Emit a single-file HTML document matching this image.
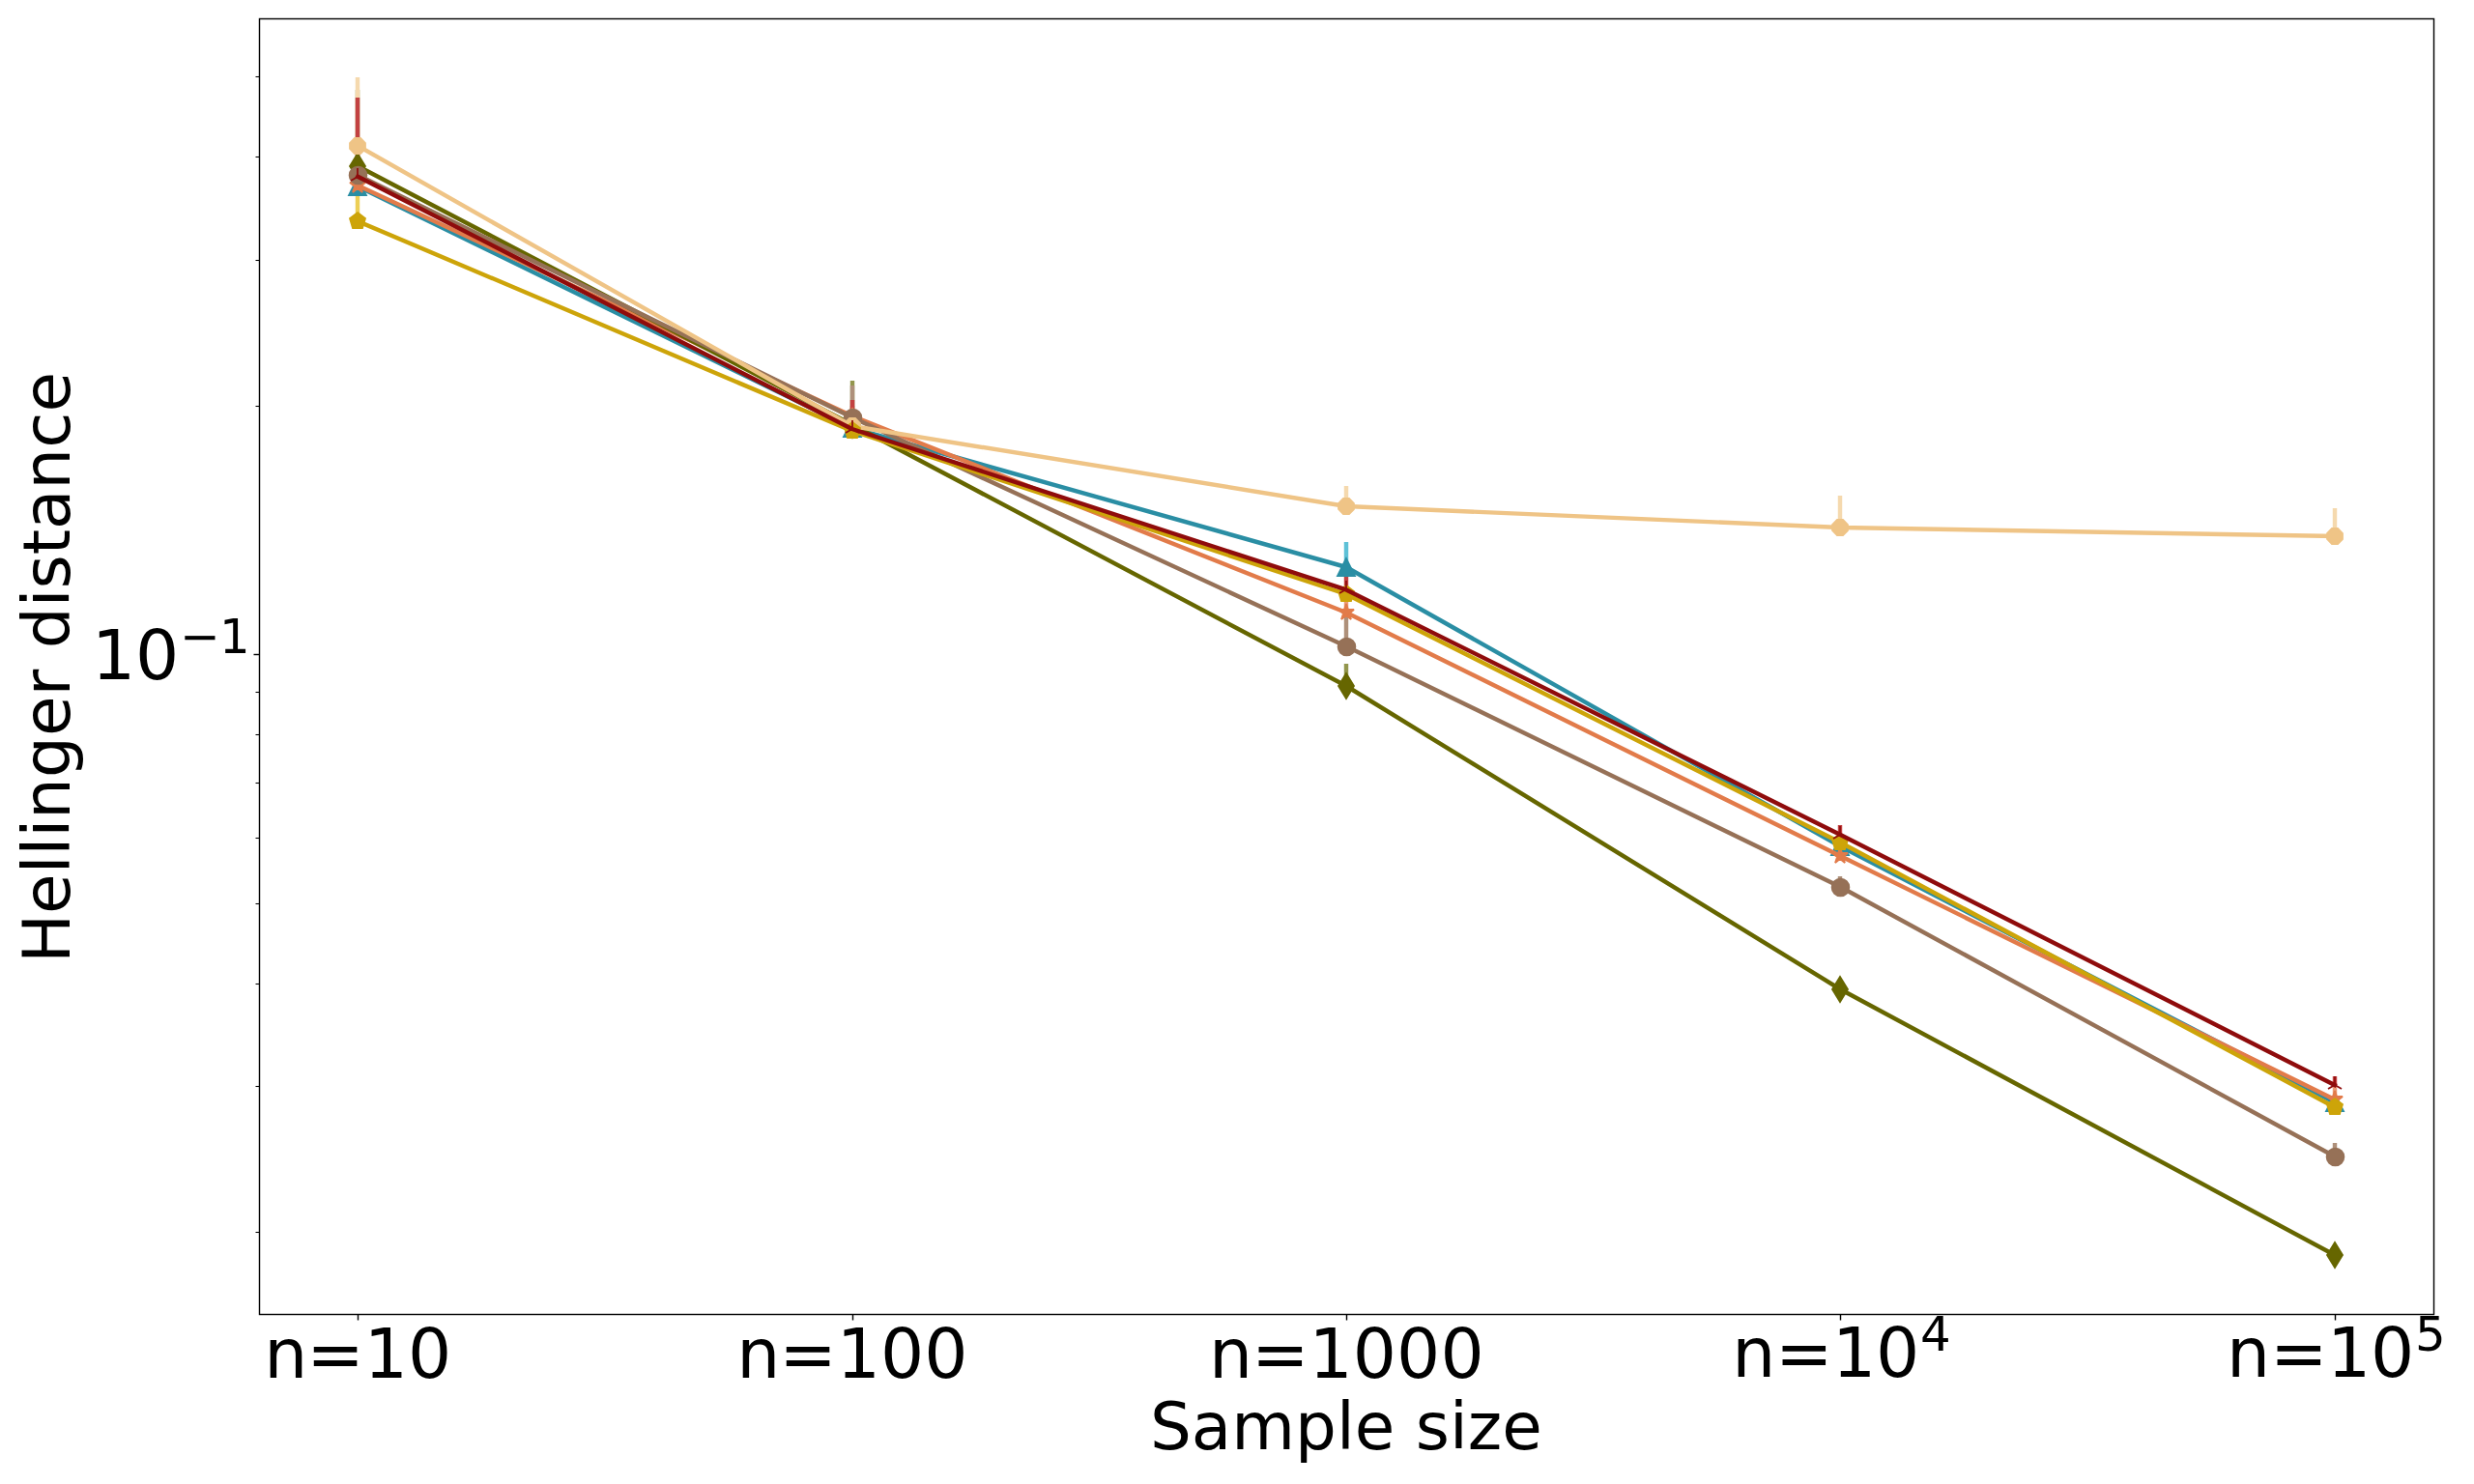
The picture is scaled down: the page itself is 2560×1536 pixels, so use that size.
<!DOCTYPE html>
<html lang="en"><head><meta charset="utf-8"><title>Hellinger distance vs sample size</title>
<style>html,body{margin:0;padding:0;background:#fff}body{width:2560px;height:1536px;overflow:hidden}</style></head>
<body>
<svg width="2560" height="1536" viewBox="0 0 2560 1536" style="display:block">
<rect width="2560" height="1536" fill="#fff"/>
<g id="errorbars" stroke-linecap="butt" fill="none">
<line x1="1393" x2="1393" y1="587" y2="561" stroke="#5ec1d7" stroke-width="4.44"/>
<line x1="882" x2="882" y1="431" y2="420" stroke="#ec9b78" stroke-width="4.44"/>
<line x1="1393" x2="1393" y1="634" y2="612" stroke="#ec9b78" stroke-width="4.44"/>
<line x1="2416" x2="2416" y1="1138" y2="1124" stroke="#ec9b78" stroke-width="4.44"/>
<line x1="370" x2="370" y1="172" y2="93" stroke="#93964d" stroke-width="4.44"/>
<line x1="882" x2="882" y1="440" y2="394" stroke="#93964d" stroke-width="4.44"/>
<line x1="1393" x2="1393" y1="710" y2="687" stroke="#93964d" stroke-width="4.44"/>
<line x1="882" x2="882" y1="432" y2="399" stroke="#ae907a" stroke-width="4.44"/>
<line x1="1393" x2="1393" y1="669" y2="630" stroke="#ae907a" stroke-width="4.44"/>
<line x1="1904" x2="1904" y1="918" y2="907" stroke="#ae907a" stroke-width="4.44"/>
<line x1="2416" x2="2416" y1="1197" y2="1183" stroke="#ae907a" stroke-width="4.44"/>
<line x1="370" x2="370" y1="151" y2="80" stroke="#f5d9ae" stroke-width="4.44"/>
<line x1="1393" x2="1393" y1="524" y2="503" stroke="#f5d9ae" stroke-width="4.44"/>
<line x1="1904" x2="1904" y1="546" y2="513" stroke="#f5d9ae" stroke-width="4.44"/>
<line x1="2416" x2="2416" y1="555" y2="526" stroke="#f5d9ae" stroke-width="4.44"/>
<line x1="370" x2="370" y1="229" y2="200" stroke="#edcf55" stroke-width="4.44"/>
<line x1="370" x2="370" y1="183" y2="101" stroke="#c24141" stroke-width="4.44"/>
<line x1="882" x2="882" y1="444" y2="414" stroke="#c24141" stroke-width="4.44"/>
<line x1="1393" x2="1393" y1="610" y2="592" stroke="#c24141" stroke-width="4.44"/>
<line x1="1904" x2="1904" y1="864" y2="854" stroke="#c24141" stroke-width="4.44"/>
<line x1="2416" x2="2416" y1="1123" y2="1114" stroke="#c24141" stroke-width="4.44"/>
</g>
<g id="s-teal"><polyline points="370.27,193 881.64,443 1393,587 1904.36,876 2415.73,1141" fill="none" stroke="#2a8ea4" stroke-width="4.44" stroke-linejoin="round" stroke-linecap="square"/>
<polygon points="370,184 361,202 379,202" fill="#2a8ea4" stroke="#2a8ea4" stroke-width="1.78" stroke-linejoin="miter" stroke-miterlimit="10"/>
<polygon points="882,434 873,452 891,452" fill="#2a8ea4" stroke="#2a8ea4" stroke-width="1.78" stroke-linejoin="miter" stroke-miterlimit="10"/>
<polygon points="1393,578 1384,596 1402,596" fill="#2a8ea4" stroke="#2a8ea4" stroke-width="1.78" stroke-linejoin="miter" stroke-miterlimit="10"/>
<polygon points="1904,867 1895,885 1913,885" fill="#2a8ea4" stroke="#2a8ea4" stroke-width="1.78" stroke-linejoin="miter" stroke-miterlimit="10"/>
<polygon points="2416,1132 2407,1150 2425,1150" fill="#2a8ea4" stroke="#2a8ea4" stroke-width="1.78" stroke-linejoin="miter" stroke-miterlimit="10"/>
</g>
<g id="s-orange"><polyline points="370.27,192 881.64,430.6 1393,634 1904.36,886 2415.73,1138" fill="none" stroke="#e27b4a" stroke-width="4.44" stroke-linejoin="round" stroke-linecap="square"/>
<polygon points="370,183 372,189 378,189 373,193 375,199 370,195 365,199 367,193 362,189 368,189" fill="#e27b4a" stroke="#e27b4a" stroke-width="1.78" stroke-linejoin="bevel"/>
<polygon points="882,422 884,428 890,428 885,432 887,438 882,434 877,438 879,432 874,428 880,428" fill="#e27b4a" stroke="#e27b4a" stroke-width="1.78" stroke-linejoin="bevel"/>
<polygon points="1393,625 1395,631 1401,631 1396,635 1398,641 1393,637 1388,641 1390,635 1385,631 1391,631" fill="#e27b4a" stroke="#e27b4a" stroke-width="1.78" stroke-linejoin="bevel"/>
<polygon points="1904,877 1906,883 1912,883 1907,887 1909,893 1904,889 1899,893 1901,887 1896,883 1902,883" fill="#e27b4a" stroke="#e27b4a" stroke-width="1.78" stroke-linejoin="bevel"/>
<polygon points="2416,1129 2418,1135 2424,1135 2419,1139 2421,1145 2416,1141 2411,1145 2413,1139 2408,1135 2414,1135" fill="#e27b4a" stroke="#e27b4a" stroke-width="1.78" stroke-linejoin="bevel"/>
</g>
<g id="s-olive"><polyline points="370.27,172 881.64,439.5 1393,710 1904.36,1024 2415.73,1299" fill="none" stroke="#666600" stroke-width="4.44" stroke-linejoin="round" stroke-linecap="square"/>
<polygon points="370,159 378,172 370,185 362,172" fill="#666600" stroke="#666600" stroke-width="1.78" stroke-linejoin="miter" stroke-miterlimit="10"/>
<polygon points="882,427 890,440 882,453 874,440" fill="#666600" stroke="#666600" stroke-width="1.78" stroke-linejoin="miter" stroke-miterlimit="10"/>
<polygon points="1393,697 1401,710 1393,723 1385,710" fill="#666600" stroke="#666600" stroke-width="1.78" stroke-linejoin="miter" stroke-miterlimit="10"/>
<polygon points="1904,1011 1912,1024 1904,1037 1896,1024" fill="#666600" stroke="#666600" stroke-width="1.78" stroke-linejoin="miter" stroke-miterlimit="10"/>
<polygon points="2416,1286 2424,1299 2416,1312 2408,1299" fill="#666600" stroke="#666600" stroke-width="1.78" stroke-linejoin="miter" stroke-miterlimit="10"/>
</g>
<g id="s-brown"><polyline points="370.27,181.2 881.64,432 1393,669 1904.36,918 2415.73,1197" fill="none" stroke="#967157" stroke-width="4.44" stroke-linejoin="round" stroke-linecap="square"/>
<circle cx="370.5" cy="181.5" r="8.89" fill="#967157" stroke="#967157" stroke-width="1.78"/>
<circle cx="882.5" cy="432.5" r="8.89" fill="#967157" stroke="#967157" stroke-width="1.78"/>
<circle cx="1393.5" cy="669.5" r="8.89" fill="#967157" stroke="#967157" stroke-width="1.78"/>
<circle cx="1904.5" cy="918.5" r="8.89" fill="#967157" stroke="#967157" stroke-width="1.78"/>
<circle cx="2416.5" cy="1197.5" r="8.89" fill="#967157" stroke="#967157" stroke-width="1.78"/>
</g>
<g id="s-tan"><polyline points="370.27,151 881.64,441 1393,524 1904.36,546 2415.73,555" fill="none" stroke="#efc486" stroke-width="4.44" stroke-linejoin="round" stroke-linecap="square"/>
<polygon points="378,154 373,159 367,159 362,154 362,148 367,143 373,143 378,148" fill="#efc486" stroke="#efc486" stroke-width="1.78" stroke-linejoin="miter"/>
<polygon points="890,444 885,449 879,449 874,444 874,438 879,433 885,433 890,438" fill="#efc486" stroke="#efc486" stroke-width="1.78" stroke-linejoin="miter"/>
<polygon points="1401,527 1396,532 1390,532 1385,527 1385,521 1390,516 1396,516 1401,521" fill="#efc486" stroke="#efc486" stroke-width="1.78" stroke-linejoin="miter"/>
<polygon points="1912,549 1907,554 1901,554 1896,549 1896,543 1901,538 1907,538 1912,543" fill="#efc486" stroke="#efc486" stroke-width="1.78" stroke-linejoin="miter"/>
<polygon points="2424,558 2419,563 2413,563 2408,558 2408,552 2413,547 2419,547 2424,552" fill="#efc486" stroke="#efc486" stroke-width="1.78" stroke-linejoin="miter"/>
</g>
<g id="s-gold"><polyline points="370.27,229 881.64,446 1393,615 1904.36,872 2415.73,1146" fill="none" stroke="#cda409" stroke-width="4.44" stroke-linejoin="round" stroke-linecap="square"/>
<polygon points="370,220 378,226 375,236 365,236 362,226" fill="#cda409" stroke="#cda409" stroke-width="1.78" stroke-linejoin="miter"/>
<polygon points="882,437 890,443 887,453 877,453 874,443" fill="#cda409" stroke="#cda409" stroke-width="1.78" stroke-linejoin="miter"/>
<polygon points="1393,606 1401,612 1398,622 1388,622 1385,612" fill="#cda409" stroke="#cda409" stroke-width="1.78" stroke-linejoin="miter"/>
<polygon points="1904,863 1912,869 1909,879 1899,879 1896,869" fill="#cda409" stroke="#cda409" stroke-width="1.78" stroke-linejoin="miter"/>
<polygon points="2416,1137 2424,1143 2421,1153 2411,1153 2408,1143" fill="#cda409" stroke="#cda409" stroke-width="1.78" stroke-linejoin="miter"/>
</g>
<g id="s-darkred"><polyline points="370.27,182.8 881.64,444 1393,610.4 1904.36,864 2415.73,1123" fill="none" stroke="#8f0c0c" stroke-width="4.44" stroke-linejoin="round" stroke-linecap="square"/>
<path d="M370,183L370,174M370,183L377,187M370,183L363,187" fill="none" stroke="#8f0c0c" stroke-width="1.78" stroke-linecap="butt"/>
<path d="M882,444L882,435M882,444L889,448M882,444L875,448" fill="none" stroke="#8f0c0c" stroke-width="1.78" stroke-linecap="butt"/>
<path d="M1393,610L1393,601M1393,610L1400,614M1393,610L1386,614" fill="none" stroke="#8f0c0c" stroke-width="1.78" stroke-linecap="butt"/>
<path d="M1904,864L1904,855M1904,864L1911,868M1904,864L1897,868" fill="none" stroke="#8f0c0c" stroke-width="1.78" stroke-linecap="butt"/>
<path d="M2416,1123L2416,1114M2416,1123L2423,1127M2416,1123L2409,1127" fill="none" stroke="#8f0c0c" stroke-width="1.78" stroke-linecap="butt"/>
</g>
<g id="axes" stroke="#000" fill="none" stroke-linecap="butt">
<line x1="370.5" x2="370.5" y1="1360.5" y2="1366.5" stroke-width="1.42"/>
<line x1="882.5" x2="882.5" y1="1360.5" y2="1366.5" stroke-width="1.42"/>
<line x1="1393.5" x2="1393.5" y1="1360.5" y2="1366.5" stroke-width="1.42"/>
<line x1="1904.5" x2="1904.5" y1="1360.5" y2="1366.5" stroke-width="1.42"/>
<line x1="2416.5" x2="2416.5" y1="1360.5" y2="1366.5" stroke-width="1.42"/>
<line x1="268.5" x2="262.5" y1="677.5" y2="677.5" stroke-width="1.42"/>
<line x1="268.5" x2="264.5" y1="79.5" y2="79.5" stroke-width="1.07"/>
<line x1="268.5" x2="264.5" y1="162.5" y2="162.5" stroke-width="1.07"/>
<line x1="268.5" x2="264.5" y1="269.5" y2="269.5" stroke-width="1.07"/>
<line x1="268.5" x2="264.5" y1="420.5" y2="420.5" stroke-width="1.07"/>
<line x1="268.5" x2="264.5" y1="716.5" y2="716.5" stroke-width="1.07"/>
<line x1="268.5" x2="264.5" y1="760.5" y2="760.5" stroke-width="1.07"/>
<line x1="268.5" x2="264.5" y1="810.5" y2="810.5" stroke-width="1.07"/>
<line x1="268.5" x2="264.5" y1="867.5" y2="867.5" stroke-width="1.07"/>
<line x1="268.5" x2="264.5" y1="935.5" y2="935.5" stroke-width="1.07"/>
<line x1="268.5" x2="264.5" y1="1018.5" y2="1018.5" stroke-width="1.07"/>
<line x1="268.5" x2="264.5" y1="1124.5" y2="1124.5" stroke-width="1.07"/>
<line x1="268.5" x2="264.5" y1="1275.5" y2="1275.5" stroke-width="1.07"/>
<rect x="268.5" y="19.5" width="2250" height="1341" stroke-width="1.42" stroke-linejoin="miter"/>
</g>
<g id="labels" font-family='"DejaVu Sans","Liberation Sans",sans-serif' fill="#000">
<text x="273.14 317.17 376.73 421.97" y="1425.8" font-size="71.11">n=10</text>
<text x="762.14 806.17 865.73 910.97 956.23" y="1425.8" font-size="71.11">n=100</text>
<text x="1250.99 1295.03 1354.58 1399.83 1445.09 1490.49" y="1425.8" font-size="71.11">n=1000</text>
<text x="1792.15 1837.07 1896.09 1940.99" y="1424.9" font-size="71.11">n=10<tspan x="1986.94" y="1398" font-size="49.78">4</tspan></text>
<text x="2304.11 2349.01 2408.01 2452.94" y="1424.9" font-size="71.11">n=10<tspan x="2498.9" y="1398" font-size="49.78">5</tspan></text>
<text x="95.07 139.98" y="702.9" font-size="71.11">10<tspan x="186.15 226.92" y="675.8" font-size="49.78">−1</tspan></text>
<text x="1190.06 1232.84 1274.28 1340.1 1382.99 1401.65 1443.97 1464.84 1499.88 1518.85 1554.37" y="1499.9" font-size="67.56">Sample size</text>
<text transform="translate(72,689.88) rotate(-90)" x="-306.89 -256.24 -214.4 -195.51 -176.67 -158.06 -115.1 -72.2 -30.64 -2.01 18.63 61.69 80.31 115.68 141.91 183.22 226.14 263.35" y="0" font-size="67.56">Hellinger distance</text>
</g>
</svg>
</body></html>
